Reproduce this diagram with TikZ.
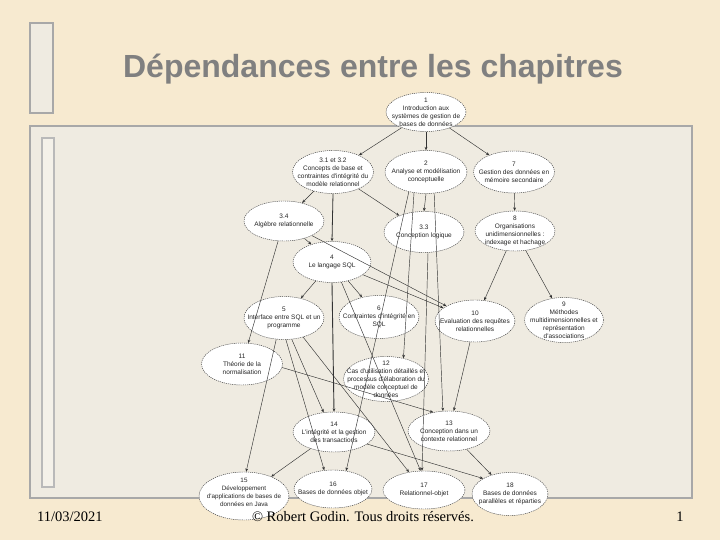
\documentclass[tikz,border=0pt]{standalone}
\usepackage{fontspec}
\setmainfont{Liberation Serif}
\newfontfamily\arialf{Liberation Sans}
\usetikzlibrary{shapes.geometric,arrows.meta}
\definecolor{parch}{RGB}{247,234,208}
\definecolor{panelc}{RGB}{239,235,225}
\definecolor{barc}{RGB}{244,241,233}
\definecolor{framec}{RGB}{168,168,168}
\definecolor{titlec}{RGB}{128,128,128}
\tikzset{
  chap/.style={ellipse, draw=black!75, dash pattern=on 1.2pt off 0.9pt, line width=0.45pt, fill=white, inner sep=0pt},
  chaptext/.style={align=center, font=\arialf\fontsize{6.5}{8.1}\selectfont, text=black!85, inner sep=0pt},
  dep/.style={draw=black!80, line width=0.45pt, -{Stealth[length=3.4pt,width=2.8pt]}},
  foot/.style={font=\fontsize{14.5}{16}\selectfont, inner sep=0pt, anchor=base}
}
\newcommand\chapnode[6]{%
  \node[chap, minimum width=#4pt, minimum height=#5pt] (#1) at (#2,#3) {};
  \node[chaptext] (#1t) at (#1.center) {#6};}
\begin{document}
\begin{tikzpicture}[x=1pt,y=-1pt]
\useasboundingbox (0,0) rectangle (720,540);
\fill[parch] (0,0) rectangle (720,540);
% decorations
\draw[framec, line width=1.5pt, fill=panelc] (30,23) rectangle (53,113);
\draw[framec, line width=2.5pt, fill=panelc] (30,126) rectangle (692,498);
\draw[framec!80, line width=1.2pt, fill=barc] (42,138) rectangle (54,487);
% title
\node[font=\arialf\bfseries\fontsize{32}{38}\selectfont, text=titlec, anchor=base, inner sep=0pt] (title) at (373,78) {Dépendances entre les chapitres};
% chapters
\chapnode{n1}{426}{112}{80}{39}{1\\Introduction aux\\systèmes de gestion de\\bases de données}
\chapnode{n31}{333}{172}{81}{43}{3.1 et 3.2\\Concepts de base et\\contraintes d'intégrité du\\modèle relationnel}
\chapnode{n2}{426}{172}{82}{43}{2\\Analyse et modélisation\\conceptuelle}
\chapnode{n7}{514}{172}{81}{42}{7\\Gestion des données en\\mémoire secondaire}
\chapnode{n34}{284}{221}{80}{40}{3.4\\Algèbre relationnelle}
\chapnode{n33}{424}{232}{80}{41}{3.3\\Conception logique}
\chapnode{n8}{515}{231}{80}{40}{8\\Organisations\\unidimensionnelles :\\indexage et hachage}
\chapnode{n4}{332}{262}{78}{41}{4\\Le langage SQL}
\chapnode{n5}{284}{318}{80}{43}{5\\Interface entre SQL et un\\programme}
\chapnode{n6}{379}{317}{80}{43}{6\\Contraintes d'intégrité en\\SQL}
\chapnode{n10}{475}{321}{80}{42}{10\\Evaluation des requêtes\\relationnelles}
\chapnode{n9}{564}{320}{79}{45}{9\\Méthodes\\multidimensionnelles et\\représentation\\d'associations}
\chapnode{n11}{242}{364}{81}{42}{11\\Théorie de la\\normalisation}
\chapnode{n12}{386}{379}{85}{45}{12\\Cas d'utilisation détaillés et\\processus d'élaboration du\\modèle conceptuel de\\données}
\chapnode{n14}{334}{432}{82}{40}{14\\L'intégrité et la gestion\\des transactions}
\chapnode{n13}{449}{431}{82}{40}{13\\Conception dans un\\contexte relationnel}
\node[chap, minimum width=90pt, minimum height=48pt] (n15) at (244,496) {};
\node[chaptext, font=\arialf\fontsize{6.3}{7.8}\selectfont] (n15t) at ([yshift=3.5pt]n15.center) {15\\Développement\\d'applications de bases de\\données en Java};
\chapnode{n16}{333}{489}{78}{38}{16\\Bases de données objet}
\chapnode{n17}{424}{490}{82}{38}{17\\Relationnel-objet}
\chapnode{n18}{510}{494}{76}{43}{18\\Bases de données\\parallèles et réparties}
% dependencies
\draw[dep] (n1) -- (n31);
\draw[dep] (n1) -- (n2);
\draw[dep] (n1) -- (n7);
\draw[dep] (n31) -- (n34);
\draw[dep, line width=0.8pt] (n31.south) -- (n4.north);
\draw[dep] (n31) -- (n33);
\draw[dep] (n2.south) -- (n33.north);
\draw[dep] (n7) -- (n8);
\draw[dep] (n34) -- (n11);
\draw[dep] (n34) -- (n4);
\draw[dep] (n34) -- (n10);
\draw[dep] (n4) -- (n5);
\draw[dep] (n4) -- (n6);
\draw[dep] (n4) -- (n10);
\draw[dep, line width=0.9pt] (n4.south) -- (n14.north);
\draw[dep] (n8) -- (n10);
\draw[dep] (n8) -- (n9);
\draw[dep] (n2.240) -- (n12.50);
\draw[dep] (n2.291) -- (n13.107);
\draw[dep] (n2.229) -- (n16.54);
\draw[dep] (n33.281) -- (n17.96);
\draw[dep] (n5.290) -- (n14.118);
\draw[dep] (n5.250) -- (n15.85);
\draw[dep] (n5.275) -- (n16.115);
\draw[dep] (n5.315) -- (n17.130);
\draw[dep] (n4.295) -- (n17.100);
\draw[dep] (n10) -- (n13);
\draw[dep] (n11.355) -- (n13.130);
\draw[dep] (n14) -- (n15);
\draw[dep] (n14.340) -- (n18.150);
\draw[dep] (n13) -- (n18);
% footer
\node[foot, anchor=base west] (date) at (37,521) {11/03/2021};
\node[foot] (copy) at (363,521) {© Robert Godin. Tous droits réservés.};
\node[foot] (page) at (680,521) {1};
\end{tikzpicture}
\end{document}
